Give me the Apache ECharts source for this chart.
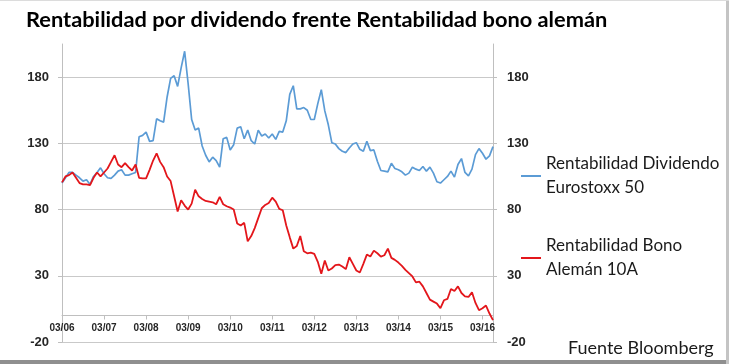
<!DOCTYPE html>
<html>
<head>
<meta charset="utf-8">
<script src="https://cdn.jsdelivr.net/npm/echarts@6/dist/echarts.min.js"></script>
<style>
html,body{margin:0;padding:0;background:#fff;}
#chart{width:729px;height:364px;}
</style>
</head>
<body>
<div id="chart"></div>
<script>
// ---- data ----
var titleText = 'Rentabilidad por dividendo frente Rentabilidad bono alemán';
var seriesNames = ['Rentabilidad Dividendo\nEurostoxx 50', 'Rentabilidad Bono\nAlemán 10A'];
var startYear = 2006, startMonth = 3, nMonths = 124;
var yTicks = [-20, 30, 80, 130, 180];
var yMax = 205;
var dividendo = [
  100, 104, 108, 108, 106, 104, 101.5, 102.5, 99, 105,
  108, 111.5, 107, 104, 103.5, 106, 109, 110, 106, 106,
  107, 108, 135, 136, 138.5, 131.5, 132, 148.5, 147, 146,
  165, 179, 181, 173, 187, 199.5, 175, 148, 140, 141.5,
  128, 121, 116, 119.5, 117, 112, 133.5, 134.5, 125, 129,
  141.5, 142.5, 133.5, 140, 132, 129.5, 140, 135.5, 137, 134,
  137, 133, 139, 138.5, 147, 167, 173.5, 156, 156, 157,
  155, 148, 148, 160, 170.5, 154.5, 144, 130.5, 129.5, 126,
  124, 123, 126.5, 129.5, 130.5, 125.5, 124, 131.5, 124.5, 125,
  116.5, 109.5, 109, 108.5, 115, 111, 110, 108.5, 106, 107.5,
  112, 110.5, 109.5, 112.5, 109, 112, 107.5, 101, 100, 102.5,
  105, 109, 104.5, 114, 118.5, 108, 105.5, 110.5, 121.5, 126,
  122.5, 118, 120.5, 127.5
];
var bono = [
  100.5, 105, 106, 108, 104, 100, 99, 99, 98.5, 104,
  108, 105, 108, 111, 116, 121, 114, 112, 115, 112,
  109.5, 114, 104, 103.5, 103.5, 110, 117, 122.5, 116, 112,
  105, 101.5, 90, 78.5, 87, 83, 80, 84.5, 95, 90,
  88, 86.5, 86, 85.5, 84, 89.5, 84, 82.5, 81.5, 80,
  69.5, 68, 70, 56, 60, 66, 73.5, 81, 83.5, 85,
  89, 86, 80.5, 79.5, 68, 59, 50.5, 52.5, 60, 48.5,
  47, 47.5, 46.5, 40.5, 31.5, 41.5, 34, 35.5, 38, 38.5,
  37, 35, 44, 39, 34, 32.5, 39, 46, 44.5, 49,
  47, 44.5, 45.5, 50.5, 43.5, 42, 40, 37.5, 34.5, 32,
  29.5, 25, 25.5, 22, 17, 12, 10.5, 9, 5.5, 11.5,
  12.5, 20, 18.5, 22, 17, 14.5, 14, 17.5, 9.5, 4,
  5.5, 7.5, 1.5, -3.5
];
var categories = [];
for (var k = 0; k < nMonths; k++) {
  var m = (startMonth - 1 + k) % 12 + 1;
  var y = startYear + Math.floor((startMonth - 1 + k) / 12);
  categories.push((m < 10 ? '0' : '') + m + '/' + String(y).slice(2));
}

var FONT = 'Lato, "Liberation Sans", sans-serif';
var NUMFONT = '"Liberation Sans", Arial, sans-serif';
var GRID = '#c9c9c9';
var AXIS = '#bfbfbf';
var gridBox = {left: 62, right: 236, top: 44, bottom: 22};
var plotH = 364 - gridBox.top - gridBox.bottom;
// the category axis crosses the value axis at 0
var xAxisOffset = -plotH * (0 - yTicks[0]) / (yMax - yTicks[0]);

var chart = echarts.init(document.getElementById('chart'), null, {renderer: 'canvas'});
var yAxisBase = {
  type: 'value', min: yTicks[0], max: yMax, interval: 50,
  axisLine: {show: true, onZero: false, lineStyle: {color: AXIS, width: 1}},
  axisTick: {show: true, length: 4, lineStyle: {color: AXIS}},
  axisLabel: {show: true, showMaxLabel: false, color: '#262626', fontFamily: NUMFONT, fontWeight: 'bold', fontSize: 13, margin: 13}
};
chart.setOption({
  animation: false,
  backgroundColor: '#ffffff',
  title: {
    text: titleText, left: 26, top: 9, padding: 0,
    textStyle: {fontFamily: FONT, fontWeight: 'bold', fontSize: 21.8, color: '#000'}
  },
  grid: gridBox,
  legend: {
    orient: 'vertical', left: 516, top: 135, itemGap: 10,
    itemWidth: 20, itemHeight: 2, icon: 'rect',
    textStyle: {fontFamily: FONT, fontSize: 17, color: '#1a1a1a', lineHeight: 24, padding: [24, 0, 0, 0]}
  },
  xAxis: {
    type: 'category', data: categories, boundaryGap: false,
    offset: xAxisOffset,
    axisLine: {onZero: false, lineStyle: {color: AXIS}},
    axisTick: {interval: 11, length: 4, lineStyle: {color: AXIS}},
    axisLabel: {interval: 11, color: '#262626', fontFamily: NUMFONT, fontWeight: 'bold', fontSize: 10, margin: 8},
    splitLine: {show: false}
  },
  yAxis: [
    Object.assign({}, yAxisBase, {
      position: 'left',
      splitLine: {show: true, lineStyle: {color: [GRID, GRID, GRID, GRID, GRID, 'rgba(0,0,0,0)'], width: 1}}
    }),
    Object.assign({}, yAxisBase, {
      position: 'right',
      splitLine: {show: false},
      axisLabel: Object.assign({}, yAxisBase.axisLabel, {margin: 14})
    })
  ],
  series: [
    {name: seriesNames[0], type: 'line', data: dividendo, showSymbol: false, symbol: 'none',
     lineStyle: {color: '#5b9bd5', width: 1.7}, itemStyle: {color: '#5b9bd5'}, z: 3},
    {name: seriesNames[1], type: 'line', data: bono, showSymbol: false, symbol: 'none',
     lineStyle: {color: '#e3161b', width: 1.8}, itemStyle: {color: '#e3161b'}, z: 4}
  ],
  graphic: [
    {type: 'text', left: 568, top: 339, style: {text: 'Fuente Bloomberg', font: '18px ' + FONT, fill: '#1a1a1a'}},
    {type: 'rect', left: 0, top: 360, shape: {width: 729, height: 4}, style: {fill: '#8f8f8f'}},
    {type: 'rect', left: 726, top: 0, shape: {width: 3, height: 364}, style: {fill: '#c4c4c4'}},
    {type: 'rect', left: 0, top: 0, shape: {width: 729, height: 1}, style: {fill: '#dcdcdc'}}
  ]
});
</script>
</body>
</html>
